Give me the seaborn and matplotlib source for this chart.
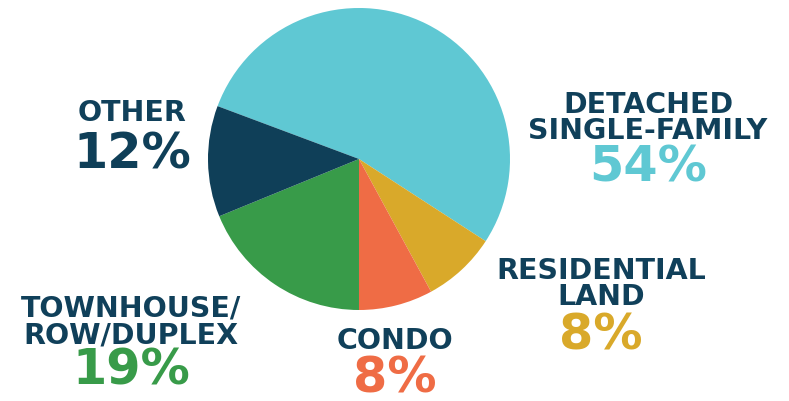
import matplotlib
matplotlib.use("Agg")
import matplotlib.pyplot as plt
import seaborn as sns

# data
categories = ["DETACHED\nSINGLE-FAMILY", "RESIDENTIAL\nLAND", "CONDO", "TOWNHOUSE/\nROW/DUPLEX", "OTHER"]
shares = [54, 8, 8, 19, 12]
pct_labels = ["54%", "8%", "8%", "19%", "12%"]
colors = ["#5FC8D3", "#D9A92A", "#EF6C45", "#389B49", "#0F3F58"]
pct_colors = ["#5FC8D3", "#D9A92A", "#EF6C45", "#389B49", "#0F3F58"]

sns.set_theme(style="white")
plt.rcParams["font.family"] = ["DejaVu Sans"]

W, H = 789, 402
fig = plt.figure(figsize=(W / 100, H / 100), dpi=100)

# pie axes: centre (359,160) px, radius 151 px
cx, cy, r = 359, 160, 151
ax = fig.add_axes([(cx - r) / W, (H - cy - r) / H, 2 * r / W, 2 * r / H])
ax.pie(shares, colors=colors, startangle=159.5, counterclock=False,
       radius=1, wedgeprops=dict(linewidth=0))
ax.set_xlim(-1.0, 1.0)
ax.set_ylim(-1.0, 1.0)
ax.set_aspect("equal")
ax.axis("off")

navy = "#10405A"
# label positions in pixels: (x centre, y of name, y of pct)
label_pos = [
    (648, 118, 168),
    (601, 284, 336),
    (395, 341, 379),
    (131, 322, 371),
    (132, 113, 155),
]

for name, pct, pc, (x, yn, yp) in zip(categories, pct_labels, pct_colors, label_pos):
    fig.text(x / W, 1 - yn / H, name, ha="center", va="center",
             fontsize=20.5, fontweight="bold", color=navy, linespacing=0.95)
    fig.text(x / W, 1 - yp / H, pct, ha="center", va="center",
             fontsize=35.5, fontweight="bold", color=pc)

fig.savefig("out.png", dpi=100, facecolor="white")
